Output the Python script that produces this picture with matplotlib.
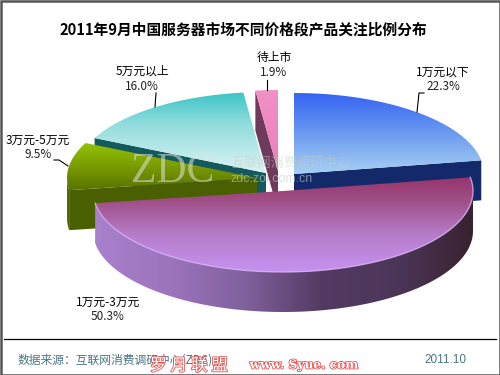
import numpy as np
import matplotlib
matplotlib.use('Agg')
import matplotlib.pyplot as plt
from matplotlib.patches import Polygon, Rectangle
from matplotlib.colors import LinearSegmentedColormap
import matplotlib.patheffects as pe

plt.rcParams['font.family'] = ['Noto Sans CJK SC', 'DejaVu Sans']

title = '2011年9月中国服务器市场不同价格段产品关注比例分布'
categories = ['1万元以下', '1万元-3万元', '3万元-5万元', '5万元以上', '待上市']
values = [22.3, 50.3, 9.5, 16.0, 1.9]
pct_labels = ['22.3%', '50.3%', '9.5%', '16.0%', '1.9%']

centers = [(294, 174), (283, 191), (257, 178), (266, 173), (278, 171)]
RX, RY, DEPTH = 190, 81, 40
draw_order = [3, 4, 2, 0, 1]
top_colors = [
    [(0, '#3563f2'), (0.45, '#6595f0'), (1, '#a8d0f2')],
    [(0, '#96356c'), (0.25, '#a04f86'), (0.6, '#b67cc8'), (1, '#c592f0')],
    [(0, '#92c400'), (0.5, '#7a9c00'), (1, '#5a7200')],
    [(0, '#3cc4c6'), (0.4, '#92dddd'), (1, '#dcf3f3')],
    [(0, '#f092c6'), (1, '#ea7eb8')],
]
wall_colors = [
    ['#1a2f70', '#152a68'],
    ['#a880cc', '#9c74bc', '#80609c', '#523a62', '#4c3658', '#38222f'],
    ['#5d7408', '#4a6000', '#465a00'],
    ['#155a5c', '#155a5c'],
    ['#6e3a5c', '#6e3a5c'],
]
cut_colors = ['#14296a', '#5a3a60', '#4a6000', '#145a5c', '#6e3a5c']
label_xy = [(443, 72), (108, 302), (38, 140), (142, 71), (274, 57)]
leaders = [
    ([417, 419, 424], [112, 93, 93]),
    None,
    ([68, 59, 54], [166, 160, 160]),
    ([155, 156], [107, 93]),
    ([267, 267], [90, 80]),
]

fig = plt.figure(figsize=(5, 3.75), dpi=100, facecolor='white')
ax = fig.add_axes([0, 0, 1, 1])


def pt(c, a, dy=0):
    r = np.radians(a)
    return c[0] + RX * np.sin(r), c[1] - RY * np.cos(r) + dy


def grad(poly, colors, horizontal=False):
    cm = LinearSegmentedColormap.from_list('g', colors)
    xs, ys = poly[:, 0], poly[:, 1]
    g = np.linspace(0, 1, 256)
    arr = g[None, :] if horizontal else g[:, None]
    im = ax.imshow(arr, cmap=cm, aspect='auto', zorder=ax_z[0], interpolation='bilinear',
                   extent=(xs.min(), xs.max(), ys.max(), ys.min()), origin='upper')
    patch = Polygon(poly, closed=True, transform=ax.transData, fc='none', ec='none')
    ax.add_patch(patch)
    im.set_clip_path(patch)
    ax_z[0] += 1


ax_z = [2]
edges = np.cumsum([0] + values) * 3.6
for i in draw_order:
    a0, a1 = edges[i], edges[i + 1]
    c = centers[i]
    for ang, vis in ((a0, 180 < a0 < 360), (a1, 0 < a1 < 180)):
        if vis:
            x, y = pt(c, ang)
            cut = np.array([c, (x, y), (x, y + DEPTH), (c[0], c[1] + DEPTH)])
            ax.add_patch(Polygon(cut, closed=True, fc=cut_colors[i], ec='none', zorder=ax_z[0]))
            ax_z[0] += 1
    w0, w1 = max(a0, 90), min(a1, 270)
    if w1 > w0:
        t = np.linspace(w0, w1, 120)
        up = np.array([pt(c, a) for a in t])
        dn = np.array([pt(c, a, DEPTH) for a in t])
        wall = np.vstack([up, dn[::-1]])
        grad(wall, wall_colors[i], horizontal=True)
    t = np.linspace(a0, a1, 160)
    arc = np.array([pt(c, a) for a in t])
    top = np.vstack([[c], arc])
    grad(top, top_colors[i])
    if i == 1:
        ax.plot(arc[:, 0], arc[:, 1], color='#d8b0f5', lw=1.0, zorder=ax_z[0], alpha=.8)
        ax_z[0] += 1

z = 50
wm = '#c8cfc8'
ax.text(173, 172, 'ZDC', fontsize=30, family=['Liberation Serif'], color='#dfe3de', alpha=.55,
        ha='center', va='center', zorder=z)
ax.text(291, 163, '互联网消费调研中心', fontsize=9.5, color=wm, alpha=.5, ha='center', va='center', zorder=z)
ax.text(272, 179, 'zdc.zol.com.cn', fontsize=9, family=['Liberation Sans'], color=wm, alpha=.6,
        ha='center', va='center', zorder=z)

ax.text(243, 29, title, fontsize=10.6, fontweight='bold', color='black', ha='center', va='center', zorder=z)
for i, (x, y) in enumerate(label_xy):
    ax.text(x, y, categories[i], fontsize=8.5, color='black', ha='center', va='center', zorder=z)
    ax.text(x, y + 15, pct_labels[i], fontsize=8.5, color='#222222', ha='center', va='center', zorder=z)
    if leaders[i]:
        ax.plot(leaders[i][0], leaders[i][1], color='black', lw=.8, zorder=z)

ax.plot([4, 496], [338.5, 338.5], color='black', lw=.9, zorder=z)
ax.text(18, 360, '数据来源：互联网消费调研中心(ZDC)', fontsize=8.5, color='#4a7585', ha='left', va='center', zorder=z)
ax.text(445, 360, '2011.10', fontsize=8.5, family=['Liberation Sans'], color='#4a7585', ha='center', va='center', zorder=z)

wm_fx = [pe.withStroke(linewidth=1.2, foreground='#e85450')]
ax.text(189, 366, '罗 月 联 盟', fontsize=12, color='white', ha='center', va='center', zorder=z + 1, path_effects=wm_fx)
ax.text(304, 365, 'www. Syue. com', fontsize=8.8, family=['DejaVu Serif'], fontweight='bold', color='white',
        ha='center', va='center', zorder=z + 1, path_effects=wm_fx)

ax.add_patch(Rectangle((0.5, 0.5), 499, 374, fc='none', ec='#555555', lw=1.8, zorder=z + 2))
ax.set_xlim(0, 500)
ax.set_ylim(375, 0)
ax.set_aspect('auto')
ax.axis('off')
fig.savefig('out.png', dpi=100)
